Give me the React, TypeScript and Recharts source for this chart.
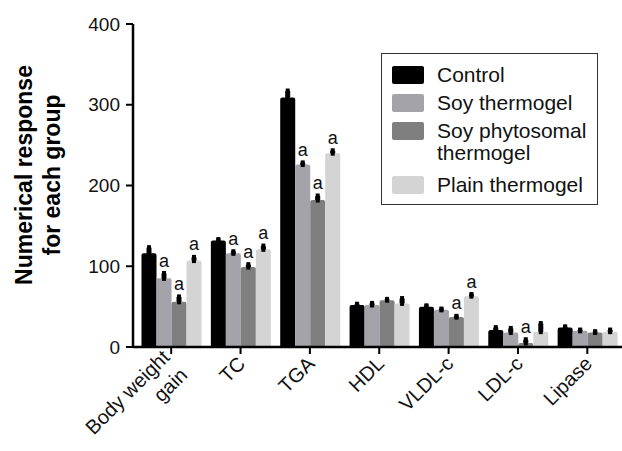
import React from 'react'
import { BarChart, Bar, XAxis, YAxis, Legend, ErrorBar, LabelList } from 'recharts'

const categories = ['Body weight gain', 'TC', 'TGA', 'HDL', 'VLDL-c', 'LDL-c', 'Lipase']
const tickLines = [['Body weight', 'gain'], ['TC'], ['TGA'], ['HDL'], ['VLDL-c'], ['LDL-c'], ['Lipase']]
const seriesNames = ['Control', 'Soy thermogel', 'Soy phytosomal\nthermogel', 'Plain thermogel']
const seriesColors = ['#000000', '#a3a3a9', '#7f7f7f', '#d4d4d4']

const control = [116, 132, 309, 52, 50, 21, 24]
const soyThermogel = [85, 116, 226, 52, 46, 18, 20]
const soyPhytosomal = [56, 99, 182, 58, 37, 5, 18]
const plainThermogel = [107, 121, 240, 54, 63, 19, 19]

// upper part of the error bars
const controlErr = [7, 1, 8, 1, 1, 3, 1]
const soyThermogelErr = [6, 2, 2, 2, 1, 5, 1]
const soyPhytosomalErr = [6, 3, 5, 1, 1, 4, 1]
const plainThermogelErr = [4, 4, 3, 6, 2, 10, 2]

// "a" = significant vs control
const controlSig = ['', '', '', '', '', '', '']
const soyThermogelSig = ['a', 'a', 'a', '', '', '', '']
const soyPhytosomalSig = ['a', 'a', 'a', '', 'a', 'a', '']
const plainThermogelSig = ['a', 'a', 'a', '', 'a', '', '']

const yTicks = [0, 100, 200, 300, 400]

const keys = ['control', 'soy', 'phyto', 'plain']
const values = [control, soyThermogel, soyPhytosomal, plainThermogel]
const errors = [controlErr, soyThermogelErr, soyPhytosomalErr, plainThermogelErr]
const sigs = [controlSig, soyThermogelSig, soyPhytosomalSig, plainThermogelSig]

const data = categories.map((name, i) => {
  const row: any = { name }
  keys.forEach((k, s) => {
    row[k] = values[s][i]
    row[k + 'Err'] = [0, errors[s][i]]
  })
  return row
})

const font = '"Liberation Sans", Arial, Helvetica, sans-serif'

const XTick = ({ x, y, index }: any) => {
  const lines = tickLines[index] || []
  const offsets = lines.length > 1 ? [-9, 16] : [0]
  return (
    <g transform={`translate(${x + 6},${y + 11}) rotate(-45)`}>
      {lines.map((t, i) => (
        <text key={t} x={0} y={offsets[i]} textAnchor="end" fontSize={20} fill="#111" fontFamily={font}>
          {t}
        </text>
      ))}
    </g>
  )
}

const YLabel = () => (
  <g fontFamily={font} fontSize={23} fontWeight="bold" fill="#000">
    <text transform="translate(32,175) rotate(-90)" textAnchor="middle">Numerical response</text>
    <text transform="translate(60,175) rotate(-90)" textAnchor="middle">for each group</text>
  </g>
)

const sigLabel = (s: number) => (props: any) => {
  const { index } = props
  const vb = props.viewBox || props
  const sig = sigs[s][index]
  if (!sig) return null
  const v = values[s][index]
  const pxPerUnit = v ? vb.height / v : 0
  const top = vb.y - errors[s][index] * pxPerUnit - 2
  return (
    <text x={vb.x + vb.width / 2} y={top - 5} textAnchor="middle" fontSize={18} fill="#111" fontFamily={font}>
      {sig}
    </text>
  )
}

const LegendBox = ({ payload }: any) => {
  const items = [...(payload || [])].sort(
    (a: any, b: any) => seriesNames.indexOf(a.value) - seriesNames.indexOf(b.value)
  )
  return (
    <div
      style={{
        border: '1.5px solid #333',
        boxSizing: 'border-box',
        width: 217,
        height: 152,
        padding: '10px 0 0 10px',
        fontFamily: font,
        fontSize: 21,
        color: '#111',
        background: '#fff',
        textAlign: 'left',
      }}
    >
      {items.map((p: any) => (
        <div
          key={p.value}
          style={{ display: 'flex', alignItems: 'flex-start', marginBottom: String(p.value).includes('\n') ? 10 : 6 }}
        >
          <span
            style={{ width: 32, height: 18, background: p.color, borderRadius: 2, marginTop: 2, marginRight: 13, flexShrink: 0 }}
          />
          <span style={{ lineHeight: '22px', whiteSpace: 'pre-line' }}>{p.value}</span>
        </div>
      ))}
    </div>
  )
}

export default function App() {
  return (
    <div style={{ width: 622, height: 451, background: '#fff' }}>
      <style>{'body{margin:0}'}</style>
      <BarChart
        width={622}
        height={451}
        data={data}
        margin={{ top: 24, right: 0, left: 0, bottom: 0 }}
        barSize={15}
        barGap={0}
      >
        <XAxis
          dataKey="name"
          height={104}
          padding={{ left: 3.5, right: 0 }}
          axisLine={{ stroke: '#000', strokeWidth: 2.5 }}
          tickLine={{ stroke: '#000', strokeWidth: 2 }}
          tickSize={7}
          tickMargin={0}
          interval={0}
          tick={<XTick />}
        />
        <YAxis
          width={133}
          domain={[0, 400]}
          ticks={yTicks}
          interval={0}
          axisLine={{ stroke: '#000', strokeWidth: 2.5 }}
          tickLine={{ stroke: '#000', strokeWidth: 2 }}
          tickSize={7}
          tickMargin={6}
          tick={{ fontSize: 19, fill: '#111', fontFamily: font }}
          label={{ content: YLabel }}
        />
        <Legend
          layout="vertical"
          align="center"
          verticalAlign="middle"
          content={<LegendBox />}
          wrapperStyle={{ left: 381, top: 53, width: 217, height: 152 }}
        />
        {keys.map((k, s) => (
          <Bar
            key={k}
            dataKey={k}
            name={seriesNames[s]}
            fill={seriesColors[s]}
            radius={[2, 2, 0, 0]}
            isAnimationActive={false}
          >
            <ErrorBar dataKey={k + 'Err'} width={2} strokeWidth={5} stroke="#000" direction="y" />
            <LabelList content={sigLabel(s)} />
          </Bar>
        ))}
      </BarChart>
    </div>
  )
}
